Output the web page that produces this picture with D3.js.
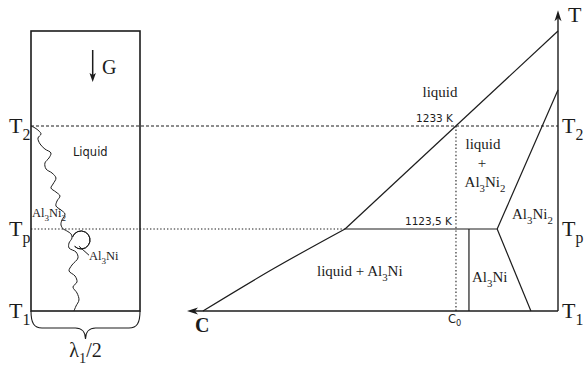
<!DOCTYPE html>
<html><head><meta charset="utf-8">
<script src="https://cdn.jsdelivr.net/npm/d3@7"></script>
<style>html,body{margin:0;padding:0;background:#fff}svg{display:block}</style>
</head><body>
<svg id="chart" width="584" height="367"></svg>
<script>
// ---- data (composition C in arbitrary units, temperature T in K) ----
const tempNames = ["2", "p", "1"];                 // subscripts of T labels
const tempValues = [1233, 1123.5, 1036.3];         // T2, Tp, T1
const tempTop = 1334;                               // liquidus at pure end
const axisTop = 1356;
const liquidusLow = [[95.7, 1036.3], [76.5, 1081.7], [57.4, 1123.5]];
const liquidusHigh = [[57.4, 1123.5], [0, 1334]];
const al3ni2Liquidus = [[16.4, 1123.5], [0, 1271.3]];
const al3ni2Solvus = [[16.4, 1123.5], [7.3, 1036.3]];
const al3niLine = [[24, 1123.5], [24, 1036.3]];
const peritectic = [[57.4, 1123.5], [16.4, 1123.5]];
const c0Value = 27.5;
const tempAnnot = ["1233 K", "1123,5 K"];
// wavy dendrite in the cell (u = % of cell width λ1/2, T)
const dendriteUpper = [[0,1233],[3.7,1230.9],[7.3,1227.7],[9.2,1224.5],[6.4,1220.2],[8.3,1213.9],[12.8,1208.5],[18.3,1204.3],[16.5,1199],[12.8,1193.7],[13.8,1187.3],[19.3,1183],[22.9,1177.7],[20.2,1171.3],[18.3,1167.1],[22.9,1162.8],[26.6,1158.6],[23.9,1153.3],[22.9,1148],[27.5,1143.7],[31.2,1139.4],[28.4,1133.1],[27.5,1127.8],[29.4,1123.5]];
const dendriteLower = [[29.4,1123.5],[36.7,1118.2],[37.6,1113.9],[34.9,1108.6],[34.9,1103.3],[41.3,1099],[43.1,1092.7],[37.6,1085.2],[34.9,1078.9],[40.4,1073.5],[42.2,1067.2],[38.5,1061.8],[42.2,1055.5],[44,1048],[41.3,1041.6],[39.4,1036.3]];
const nodule = [45.9, 1111.8];
const noduleLeader = [[44.0, 1105.2], [53.2, 1095.6]];

// ---- scales ----
const x = d3.scaleLinear().domain([0, 100]).range([558, 187]);   // composition (increasing to the left)
const y = d3.scaleLinear().domain([1036.3, 1334]).range([311, 31]);
const bx = d3.scaleLinear().domain([0, 100]).range([31, 140]);   // cell width
const svg = d3.select("#chart");
const ink = "#1c1c1c";
const serif = "'Liberation Serif', 'DejaVu Serif', serif";
const sans = "'DejaVu Sans', sans-serif";

function rich(xp, yp, parts, size, family, anchor) {
  const t = svg.append("text").attr("x", xp).attr("y", yp)
    .attr("font-family", family).attr("font-size", size).attr("fill", ink)
    .attr("text-anchor", anchor || "start");
  let lvl = 0;
  parts.forEach(([s, sub]) => {
    const ts = t.append("tspan").text(s);
    if (sub !== lvl) { ts.attr("dy", (sub - lvl) * size * 0.3); lvl = sub; }
    if (sub) ts.attr("font-size", size * 0.72);
  });
  return t;
}
const line = d3.line().x(d => x(d[0])).y(d => y(d[1]));
const bline = d3.line().x(d => bx(d[0])).y(d => y(d[1]));

// ---- cell (left) ----
svg.append("rect").attr("x", bx(0)).attr("y", y(tempTop))
  .attr("width", bx(100) - bx(0)).attr("height", y(tempValues[2]) - y(tempTop))
  .attr("fill", "none").attr("stroke", ink).attr("stroke-width", 1.6);

// dashed T2 and dotted Tp lines
svg.append("line").attr("x1", bx(0)).attr("x2", x(0)).attr("y1", y(tempValues[0])).attr("y2", y(tempValues[0]))
  .attr("stroke", ink).attr("stroke-width", 1.2).attr("stroke-dasharray", "3,2");
svg.append("line").attr("x1", bx(0)).attr("x2", x(peritectic[0][0])).attr("y1", y(tempValues[1])).attr("y2", y(tempValues[1]))
  .attr("stroke", ink).attr("stroke-width", 1.1).attr("stroke-dasharray", "1.4,2");

// dendrite
const wavy = d3.line().x(d => bx(d[0])).y(d => y(d[1])).curve(d3.curveCatmullRom);
[dendriteUpper, dendriteLower].forEach(p => svg.append("path").attr("d", wavy(p))
  .attr("fill", "none").attr("stroke", ink).attr("stroke-width", 1));
svg.append("path").attr("transform", `translate(${bx(nodule[0])},${y(nodule[1])})`)
  .attr("d", d3.arc()({innerRadius: 9, outerRadius: 9, startAngle: -70 * Math.PI / 180, endAngle: 225 * Math.PI / 180}))
  .attr("fill", "none").attr("stroke", ink).attr("stroke-width", 1);
svg.append("path").attr("d", bline(noduleLeader)).attr("stroke", ink).attr("stroke-width", 1);

// gravity arrow
const gx = bx(56.6);
svg.append("line").attr("x1", gx).attr("x2", gx).attr("y1", 50).attr("y2", 76).attr("stroke", ink).attr("stroke-width", 1.5);
svg.append("path").attr("d", `M${gx},82 L${gx - 3.2},73 L${gx},75 L${gx + 3.2},73 Z`).attr("fill", ink);
rich(102, 74, [["G", 0]], 20, serif);

rich(bx(38.5), 156, [["Liquid", 0]], 11.5, sans).attr("font-weight", 500);
rich(32, 217, [["Al", 0], ["3", 1], ["Ni", 0], ["2", 1]], 12.5, serif);
rich(89, 260, [["Al", 0], ["3", 1], ["Ni", 0]], 12.5, serif);

// brace
const b0 = bx(0), b1 = bx(100), bm = (b0 + b1) / 2, by = y(tempValues[2]);
svg.append("path").attr("d",
  `M${b0},${by} C${b0},${by + 12} ${b0 + 3},${by + 17} ${b0 + 11},${by + 17} L${bm - 10},${by + 17} C${bm - 4},${by + 17} ${bm},${by + 21} ${bm},${by + 28} C${bm},${by + 21} ${bm + 4},${by + 17} ${bm + 10},${by + 17} L${b1 - 11},${by + 17} C${b1 - 3},${by + 17} ${b1},${by + 12} ${b1},${by}`)
  .attr("fill", "none").attr("stroke", ink).attr("stroke-width", 1.1);
rich(bm, 357, [["λ", 0], ["1", 1], ["/2", 0]], 20, serif, "middle");

// left T labels
tempValues.forEach((t, i) => rich(9, y(t) + 7, [["T", 0], [tempNames[i], 1]], 22, serif));

// ---- phase diagram (right) ----
// axes
svg.append("line").attr("x1", x(0)).attr("x2", x(0)).attr("y1", y(tempValues[2])).attr("y2", y(axisTop) + 8)
  .attr("stroke", ink).attr("stroke-width", 1.4);
svg.append("path").attr("d", `M${x(0)},${y(axisTop)} L${x(0) - 3.5},${y(axisTop) + 11} L${x(0)},${y(axisTop) + 8} L${x(0) + 3.5},${y(axisTop) + 11} Z`).attr("fill", ink);
svg.append("line").attr("x1", x(0)).attr("x2", x(100) + 8).attr("y1", y(tempValues[2])).attr("y2", y(tempValues[2]))
  .attr("stroke", ink).attr("stroke-width", 1.4);
svg.append("path").attr("d", `M${x(100)},${y(tempValues[2])} L${x(100) + 11},${y(tempValues[2]) - 3.5} L${x(100) + 8},${y(tempValues[2])} L${x(100) + 11},${y(tempValues[2]) + 3.5} Z`).attr("fill", ink);
rich(568, 22, [["T", 0]], 22, serif);
rich(195, 332, [["C", 0]], 20, serif).attr("font-weight", "bold");
tempValues.forEach((t, i) => rich(562, y(t) + 7, [["T", 0], [tempNames[i], 1]], 22, serif));

// phase boundaries
const curved = d3.line().x(d => x(d[0])).y(d => y(d[1])).curve(d3.curveCatmullRom);
svg.append("path").attr("d", curved(liquidusLow)).attr("fill", "none").attr("stroke", ink).attr("stroke-width", 1.2);
[liquidusHigh, al3ni2Liquidus, al3ni2Solvus, al3niLine, peritectic].forEach(p =>
  svg.append("path").attr("d", line(p)).attr("fill", "none").attr("stroke", ink).attr("stroke-width", 1.2));

// C0 dotted
svg.append("line").attr("x1", x(c0Value)).attr("x2", x(c0Value)).attr("y1", y(tempValues[0])).attr("y2", y(tempValues[2]))
  .attr("stroke", ink).attr("stroke-width", 1.1).attr("stroke-dasharray", "1.4,2.2");
rich(x(c0Value) - 8, 323, [["C", 0], ["0", 1]], 11.5, sans);

// annotations
rich(x(c0Value) - 3, y(tempValues[0]) - 4, [[tempAnnot[0], 0]], 10.5, sans, "end");
rich(x(c0Value) - 4, y(tempValues[1]) - 4, [[tempAnnot[1], 0]], 10.5, sans, "end");
rich(440, 97, [["liquid", 0]], 15, serif, "middle");
rich(483, 149, [["liquid", 0]], 15, serif, "middle");
rich(482, 168, [["+", 0]], 15, serif, "middle");
rich(485, 187, [["Al", 0], ["3", 1], ["Ni", 0], ["2", 1]], 15, serif, "middle");
rich(512, 219, [["Al", 0], ["3", 1], ["Ni", 0], ["2", 1]], 15, serif);
rich(472, 282, [["Al", 0], ["3", 1], ["Ni", 0]], 15, serif);
rich(317, 276, [["liquid + Al", 0], ["3", 1], ["Ni", 0]], 15, serif);
</script>
</body></html>
